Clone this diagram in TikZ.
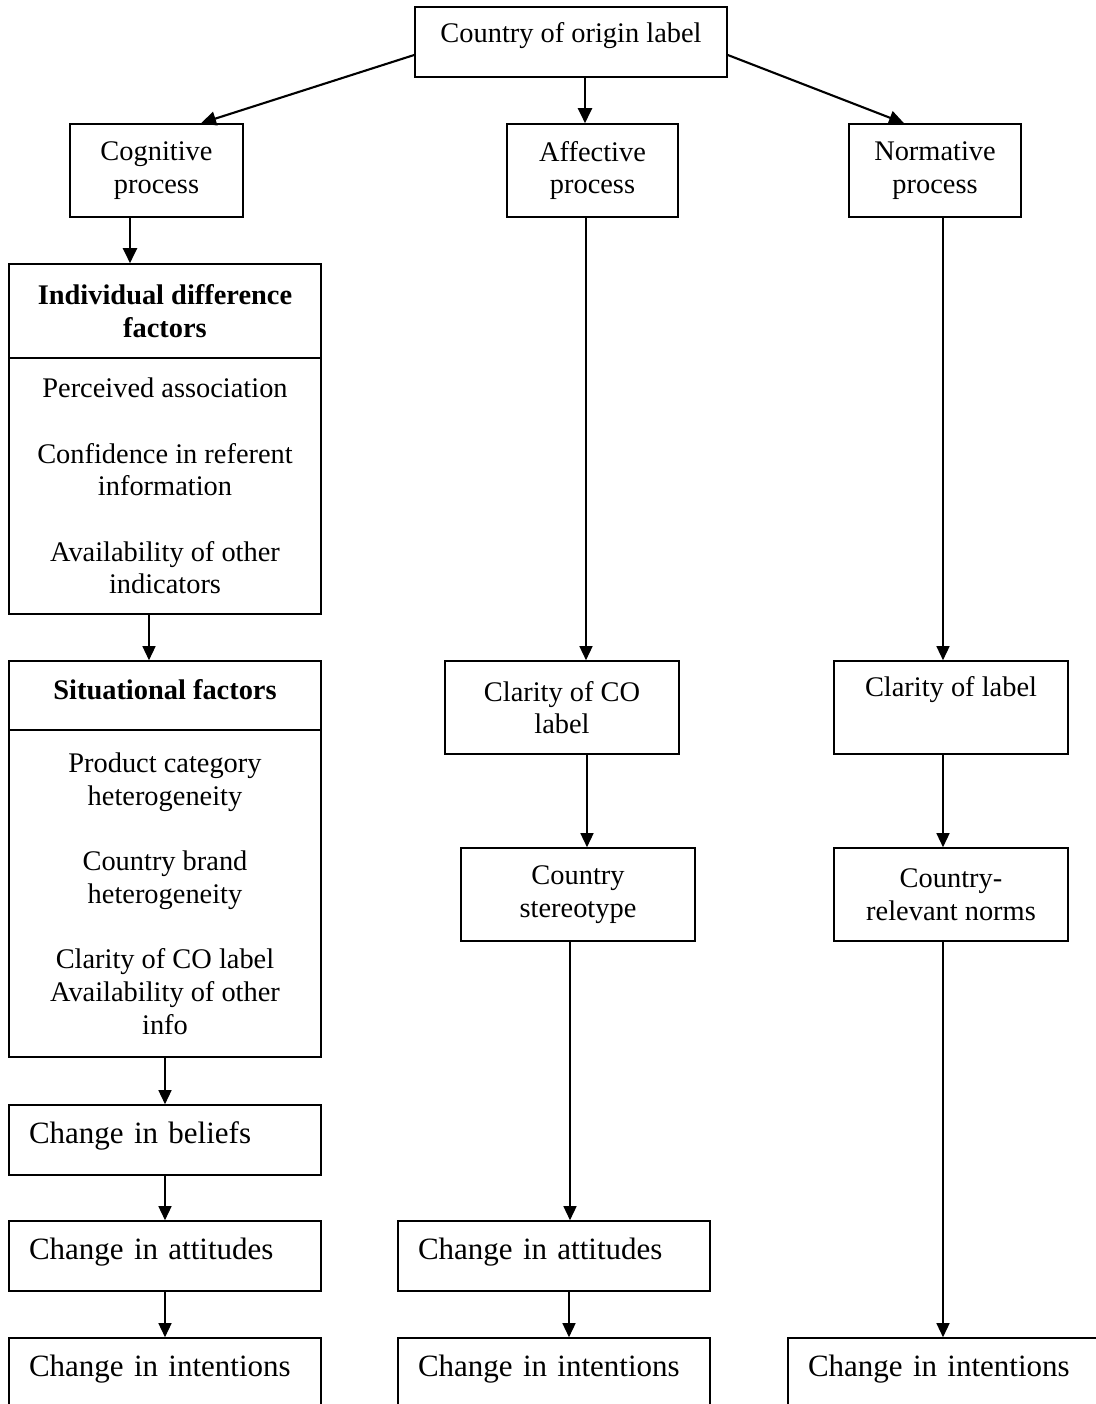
\documentclass[tikz,border=0pt]{standalone}
\usepackage{fontspec}
\setmainfont{Liberation Serif}
\usepackage{tikz}
\usetikzlibrary{arrows.meta,calc}
\tikzset{
  box/.style={draw,line width=1.6pt,inner sep=0pt,align=center,
    font=\fontsize{28.4}{32.7}\selectfont},
  proc/.style={box,minimum width=172pt,minimum height=93pt},
  mid/.style={box,minimum width=234pt,minimum height=93pt},
  col/.style={box,minimum width=312pt},
  change/.style={box,minimum width=312pt,minimum height=70pt,text width=272pt,
    align=left,inner xsep=20pt,text height=22pt,text depth=16pt,
    font=\fontsize{31}{36}\selectfont},
  link/.style={line width=1.4pt,-{Triangle[width=13pt,length=14pt]}}
}
\tikzstyle{arrow} = [line width=2.1pt,-{Triangle[width=14pt,length=15pt]}]

\begin{document}
\begin{tikzpicture}[x=1pt,y=-1pt]
  \useasboundingbox[fill=white] (0,0) rectangle (1095,1404);
  % label and the three processes
  \node[col,minimum height=70pt,text height=19pt,text depth=17pt] (origin) at (571,42) {Country of origin label};
  \node[proc,minimum width=173pt] (cog) at (156.5,170.5) {Cognitive\\process};
  \node[proc,minimum width=171pt] (aff) at (592.5,170.5) {Affective\\process};
  \node[proc] (nor) at (935,170.5) {Normative\\process};
  % cognitive column
  \node[col,minimum height=94pt] (indhead) at (165,311) {\textbf{Individual difference}\\\textbf{factors}};
  \node[col,minimum height=256pt] (indbody) at (165,486) {Perceived association\\[32.7pt]Confidence in referent\\information\\[32.7pt]Availability of other\\indicators};
  \node[col,minimum height=69pt,text height=21pt,text depth=14pt] (sithead) at (165,695.5) {\textbf{Situational factors}};
  \node[col,minimum height=327pt] (sitbody) at (165,893.5) {Product category\\heterogeneity\\[32.7pt]Country brand\\heterogeneity\\[32.7pt]Clarity of CO label\\Availability of other\\info};
  \node[change] (beliefs) at (165,1140) {Change in beliefs};
  \node[change] (attl) at (165,1256) {Change in attitudes};
  \node[change] (intl) at (165,1373) {Change in intentions};
  % affective column
  \node[mid] (clarco) at (562,707.5) {Clarity of CO\\label};
  \node[mid] (stereo) at (578,894.5) {Country\\stereotype};
  \node[change] (attm) at (554,1256) {Change in attitudes};
  \node[change] (intm) at (554,1373) {Change in intentions};
  % normative column
  \node[mid] (clarlab) at (951,707.5) {Clarity of label\\\strut};
  \node[mid] (norms) at (951,894.5) {Country-\\relevant norms};
  \node[change] (intr) at (944,1373) {Change in intentions};

  \draw[arrow] ([yshift=-13pt]origin.west) -- ([xshift=44.5pt]cog.north);
  \draw[arrow] ([xshift=14pt]origin.south) -- ([xshift=-7.5pt]aff.north);
  \draw[arrow] ([yshift=-13pt]origin.east) -- ([xshift=-31pt]nor.north);

  \draw[arrow] ([xshift=-26.5pt]cog.south) -- ([xshift=-35pt]indhead.north);
  \draw[link] ([xshift=-16pt]indbody.south) -- ([xshift=-16pt]sithead.north);
  \draw[link] (sitbody) -- (beliefs);
  \draw[link] (beliefs) -- (attl);
  \draw[link] (attl) -- (intl);

  \draw[link] ([xshift=-6.5pt]aff.south) -- ([xshift=24pt]clarco.north);
  \draw[link] ([xshift=25pt]clarco.south) -- ([xshift=9pt]stereo.north);
  \draw[link] ([xshift=-8pt]stereo.south) -- ([xshift=16pt]attm.north);
  \draw[link] ([xshift=15pt]attm.south) -- ([xshift=15pt]intm.north);

  \draw[link] ([xshift=8pt]nor.south) -- ([xshift=-8pt]clarlab.north);
  \draw[link] ([xshift=-8pt]clarlab.south) -- ([xshift=-8pt]norms.north);
  \draw[link] ([xshift=-8pt]norms.south) -- ([xshift=-1pt]intr.north);
\end{tikzpicture}
\end{document}
